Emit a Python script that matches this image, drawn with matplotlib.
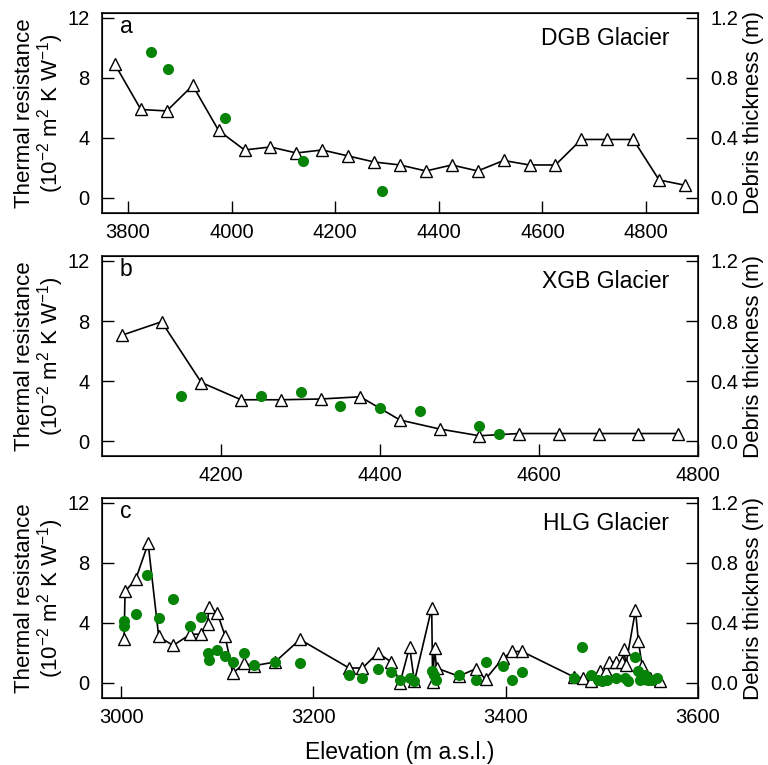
import numpy as np
import matplotlib
matplotlib.use("Agg")
import matplotlib.pyplot as plt

plt.rcParams['font.family'] = ['Liberation Sans', 'DejaVu Sans']
plt.rcParams['mathtext.fontset'] = 'custom'
plt.rcParams['mathtext.rm'] = 'Liberation Sans'
plt.rcParams['mathtext.it'] = 'Liberation Sans:italic'
plt.rcParams['mathtext.bf'] = 'Liberation Sans:bold'

# DGB Glacier: thermal resistance (1e-2 m2 K W-1) by elevation band
dgb_elev = [3775, 3825, 3875, 3925, 3975, 4025, 4075, 4125, 4175, 4225, 4275, 4325,
            4375, 4425, 4475, 4525, 4575, 4625, 4675, 4725, 4775, 4825, 4875]
dgb_res = [8.9, 5.9, 5.8, 7.5, 4.5, 3.2, 3.4, 3.0, 3.2, 2.8, 2.4, 2.2,
           1.8, 2.2, 1.8, 2.5, 2.2, 2.2, 3.9, 3.9, 3.9, 1.2, 0.85]
# measured debris thickness (m)
dgb_obs_elev = [3844, 3878, 3987, 4137, 4290]
dgb_obs_thk = [0.97, 0.86, 0.535, 0.247, 0.049]

# XGB Glacier
xgb_elev = [4075, 4125, 4175, 4225, 4275, 4325, 4375, 4425, 4475, 4525,
            4575, 4625, 4675, 4725, 4775]
xgb_res = [7.05, 7.95, 3.9, 2.75, 2.75, 2.8, 2.95, 1.4, 0.8, 0.35,
           0.5, 0.5, 0.5, 0.5, 0.5]
xgb_obs_elev = [4150, 4250, 4300, 4350, 4400, 4450, 4525, 4550]
xgb_obs_thk = [0.30, 0.30, 0.33, 0.235, 0.22, 0.20, 0.10, 0.05]

# HLG Glacier
hlg_elev = [3003, 3004, 3015, 3028, 3039, 3054, 3072, 3083, 3090, 3091, 3100, 3108,
            3116, 3128, 3138, 3160, 3186, 3237, 3251, 3267, 3281, 3290, 3300, 3305,
            3323, 3324, 3326, 3328, 3351, 3369, 3379, 3397, 3407, 3417, 3471, 3480,
            3489, 3498, 3504, 3507, 3515, 3521, 3523, 3525, 3535, 3538, 3542, 3550,
            3560]
hlg_res = [2.95, 6.1, 6.9, 9.3, 3.1, 2.5, 3.25, 3.25, 3.95, 5.05, 4.65, 3.15,
           0.65, 1.3, 1.15, 1.4, 2.9, 1.0, 1.0, 2.0, 1.4, 0.0, 2.4, 0.1,
           5.0, 0.05, 2.3, 1.0, 0.45, 0.95, 0.25, 1.65, 2.1, 2.1, 0.4, 0.35,
           0.1, 0.8, 0.8, 1.4, 1.4, 1.4, 2.25, 1.2, 4.85, 2.8, 1.1, 0.3,
           0.1]
hlg_obs_elev = [3003, 3003, 3015, 3027, 3039, 3054, 3072, 3083, 3090, 3091, 3100, 3108,
                3116, 3128, 3138, 3160, 3186, 3237, 3251, 3267, 3281, 3290, 3300, 3305,
                3323, 3325, 3327, 3351, 3369, 3379, 3397, 3407, 3417, 3471, 3479, 3489,
                3496, 3500, 3505, 3515, 3524, 3527, 3535, 3538, 3540, 3545, 3548, 3552,
                3557]
hlg_obs_thk = [0.41, 0.38, 0.46, 0.72, 0.43, 0.56, 0.38, 0.44, 0.20, 0.15, 0.22, 0.18,
               0.14, 0.20, 0.12, 0.14, 0.13, 0.05, 0.03, 0.09, 0.07, 0.02, 0.03, 0.01,
               0.08, 0.05, 0.02, 0.05, 0.02, 0.14, 0.11, 0.02, 0.07, 0.03, 0.24, 0.05,
               0.02, 0.01, 0.02, 0.03, 0.03, 0.015, 0.17, 0.08, 0.02, 0.05, 0.02, 0.02,
               0.03]

panels = [
    ('a', 'DGB Glacier', dgb_elev, dgb_res, dgb_obs_elev, dgb_obs_thk,
     (3750, 4900), [3800, 4000, 4200, 4400, 4600, 4800]),
    ('b', 'XGB Glacier', xgb_elev, xgb_res, xgb_obs_elev, xgb_obs_thk,
     (4050, 4800), [4200, 4400, 4600, 4800]),
    ('c', 'HLG Glacier', hlg_elev, hlg_res, hlg_obs_elev, hlg_obs_thk,
     (2980, 3600), [3000, 3200, 3400, 3600]),
]

fig = plt.figure(figsize=(7.68, 7.65), dpi=100)
bottoms = [0.7216, 0.4039, 0.0876]
green = '#078407'
tick_kw = dict(direction='in', length=8.5, width=1.0, labelsize=14.5)

for (tag, name, el, res, oel, othk, xl, xt), b in zip(panels, bottoms):
    ax = fig.add_axes([0.1328, b, 0.776, 0.2614])
    ax.plot(el, res, '-', color='black', lw=1.2, marker='^', ms=9,
            mfc='white', mec='black', mew=1.0, zorder=3)
    ax.set_xlim(*xl)
    ax.set_xticks(xt)
    ax.set_ylim(-1, 12.33)
    ax.set_yticks([0, 4, 8, 12])
    ax.tick_params(axis='x', pad=7, **tick_kw)
    ax.tick_params(axis='y', pad=9, **tick_kw)
    for s in ax.spines.values():
        s.set_linewidth(1.1)
    ax.set_ylabel('Thermal resistance\n(10$^{-2}$ m$^{2}$ K W$^{-1}$)',
                  fontsize=16, linespacing=1.0, labelpad=1)
    ax.text(0.03, 0.935, tag, transform=ax.transAxes, fontsize=16.5, va='center')
    ax.text(0.952, 0.875, name, transform=ax.transAxes, fontsize=16.5,
            ha='right', va='center')

    ax2 = ax.twinx()
    ax2.plot(oel, othk, 'o', color=green, ms=8, mec='none')
    ax2.set_ylim(-0.1, 1.233)
    ax2.set_yticks([0.0, 0.4, 0.8, 1.2])
    ax2.set_yticklabels(['0.0', '0.4', '0.8', '1.2'])
    ax2.tick_params(axis='y', pad=9, **tick_kw)
    ax2.set_ylabel('Debris thickness (m)', fontsize=16, labelpad=3)

    if tag == 'c':
        ax.set_xlabel('Elevation (m a.s.l.)', fontsize=16.5, labelpad=10)

fig.savefig('out.png', dpi=100)
